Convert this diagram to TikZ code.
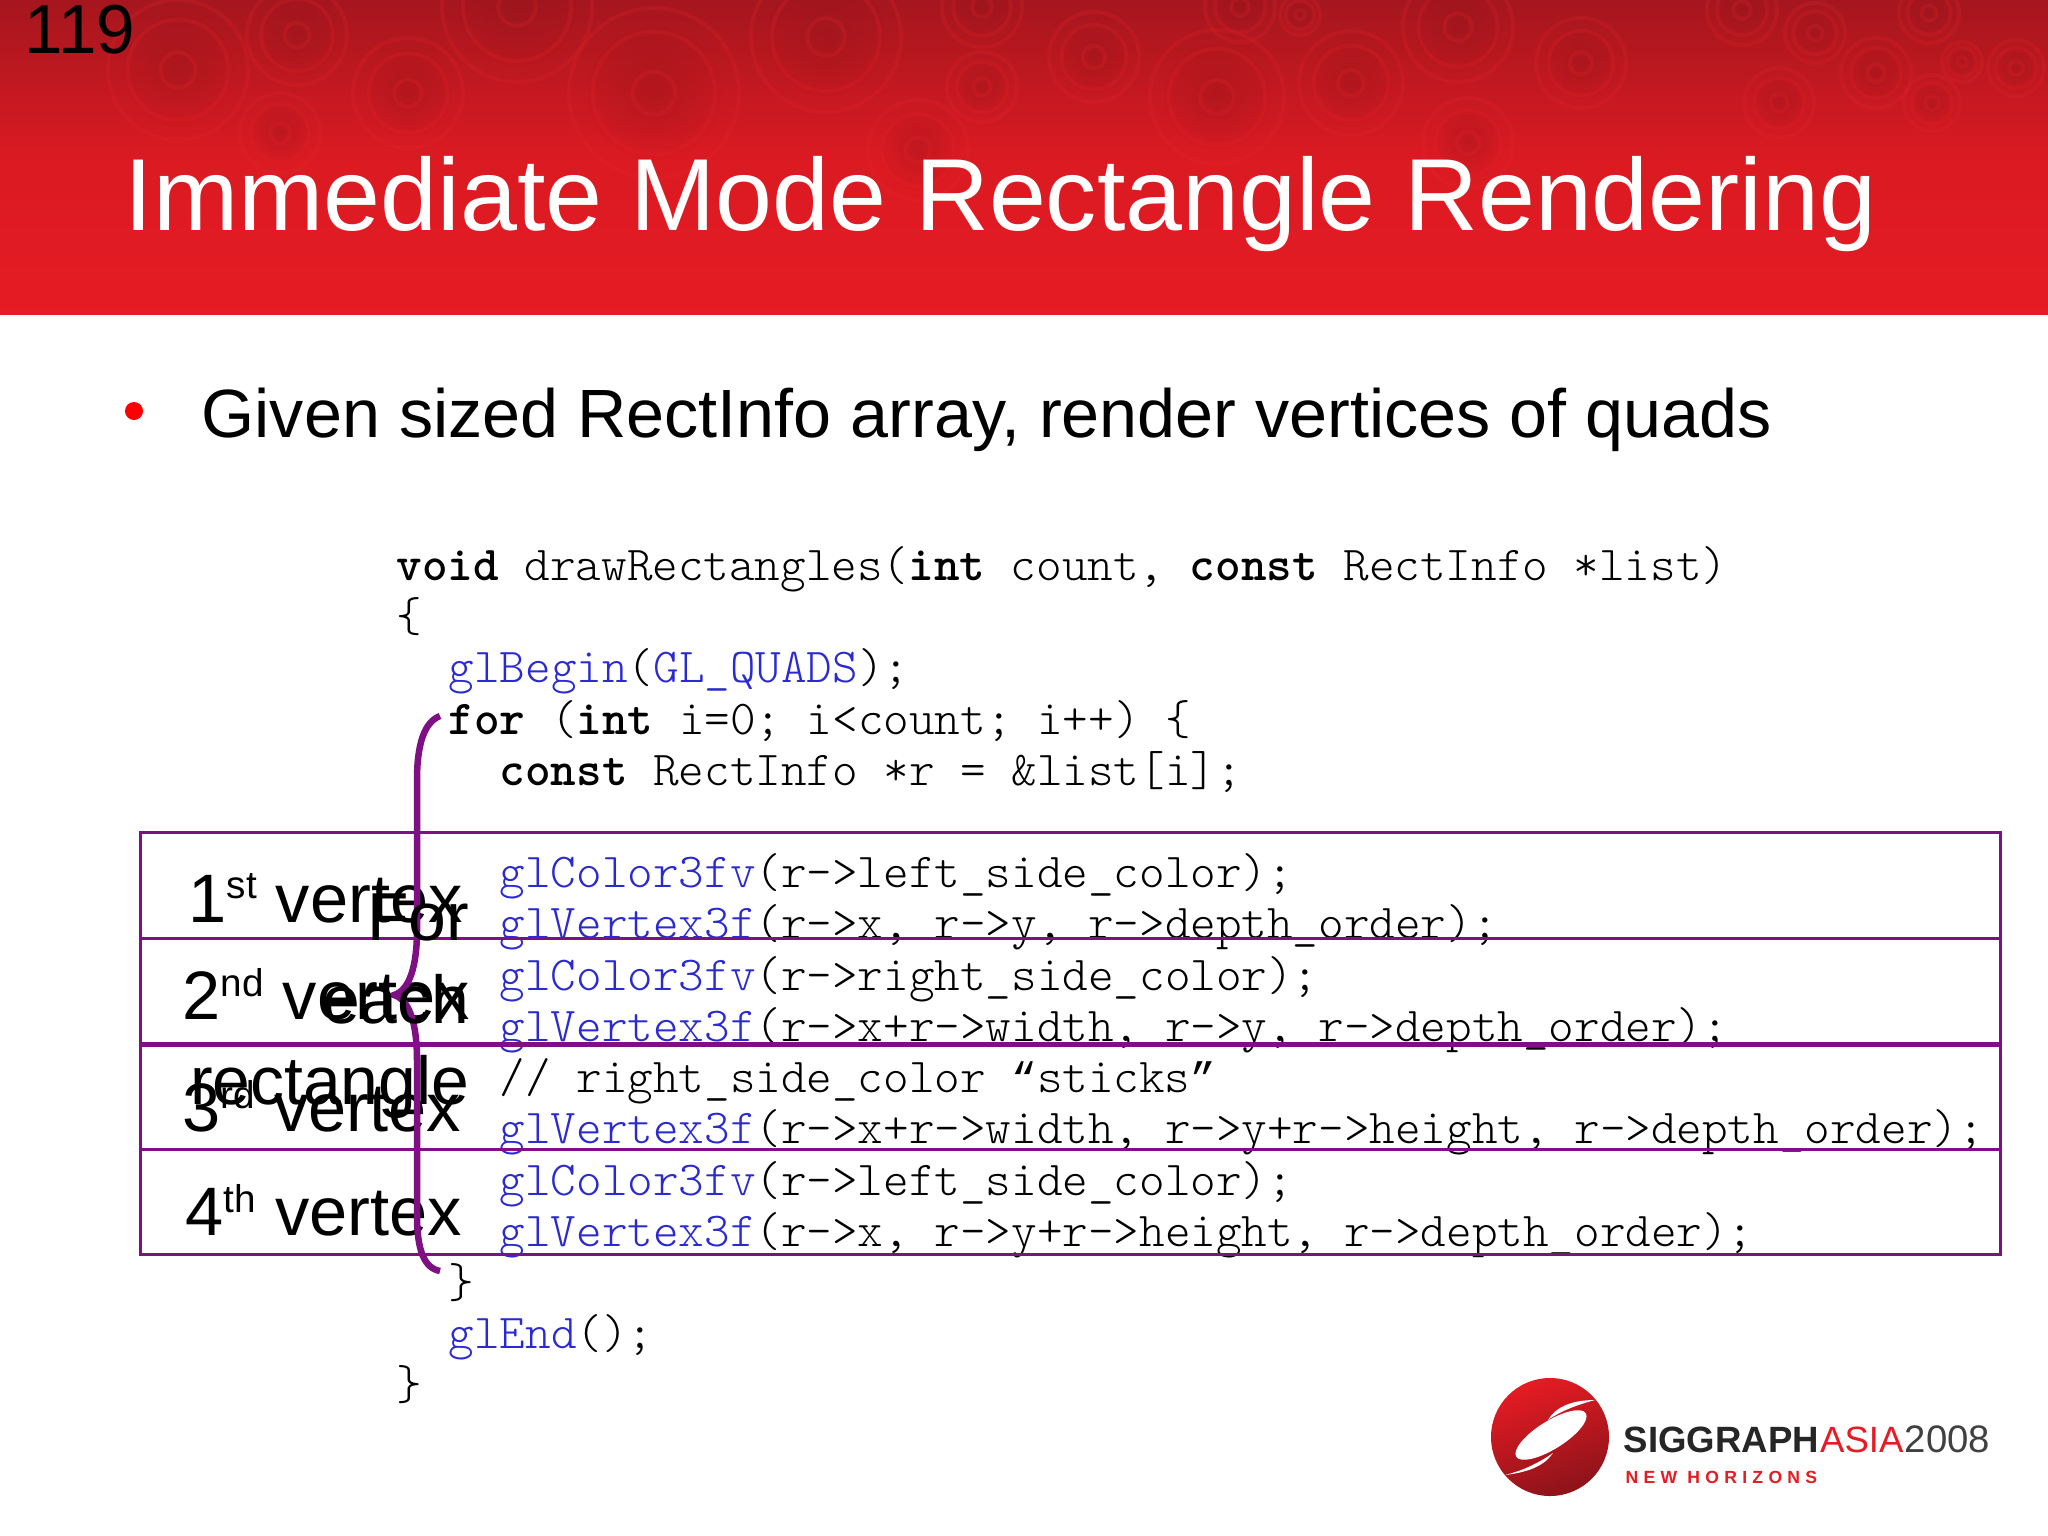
\documentclass[tikz,border=0pt]{standalone}
\usepackage{fontspec}
\usetikzlibrary{fadings}
\setmainfont{Liberation Sans}
\setsansfont{Liberation Sans}
\newfontfamily\quotefont{Liberation Mono}
\definecolor{headred}{HTML}{E61B23}
\definecolor{headdark}{HTML}{A5161E}
\definecolor{ringred}{HTML}{E8252D}
\definecolor{bandpurple}{HTML}{7F1083}
\definecolor{glblue}{HTML}{2A2AD0}
\tikzfading[name=spotfade, inner color=transparent!0, outer color=transparent!100]
\tikzset{
  textbase/.style={inner sep=0pt, anchor=base west},
  slidetitle/.style={textbase, white, font=\fontsize{29.1}{32}\selectfont},
  pagenum/.style={textbase, black, font=\fontsize{19.7}{22}\selectfont},
  bullettext/.style={textbase, black, font=\fontsize{19.42}{22}\selectfont},
  codeline/.style={textbase, black, font=\fontsize{13.86}{16}\ttfamily\fontseries{l}\selectfont},
  vertexlabel/.style={textbase, black, font=\fontsize{19.5}{22}\selectfont},
  forlabel/.style={inner sep=0pt, anchor=base east, black, font=\fontsize{19.3}{22}\selectfont},
  band/.style={draw=bandpurple, line width=0.3mm},
  ring/.style={draw=ringred, opacity=0.2, line width=0.4mm},
}
\newcommand{\glcall}[1]{\textcolor{glblue}{#1}}
\newcommand{\ordsup}[1]{\raisebox{0.23cm}{\fontsize{11}{13}\selectfont #1}}
\newcommand{\curlyq}[1]{{\quotefont\fontsize{12.1}{14}\selectfont #1}}
\begin{document}
\begin{tikzpicture}[x=0.01cm, y=-0.01cm]
 \useasboundingbox (0,0) rectangle (2048,1536);
 \fill[white] (0,0) rectangle (2048,1536);
 % header
 \shade[top color=headdark, bottom color=headred, middle color=headred!82!headdark] (0,0) rectangle (2048,314);
 \begin{scope}
    \clip (0,0) rectangle (2048,314);
    \foreach \cx/\cy/\rad in {178/70/70, 297/35/50, 517/7/75, 654/93/85, 826/37/75, 408/93/55, 280/133/40, 918/150/50, 982/7/40, 982/87/35,
       1094/57/45, 1217/97/67, 1351/83/52, 1458/27/55, 1581/63/45, 1815/33/30, 1876/73/35, 1962/62/20, 2016/68/28, 1932/103/28,
       1779/103/35, 1742/10/35, 1929/13/30, 1468/143/45, 1240/7/35, 1300/15/20}{
       \fill[headdark!85!black, opacity=0.3, path fading=spotfade] (\cx,\cy) circle (\rad*0.8);
       \draw[ring] (\cx,\cy) circle (\rad);
       \draw[ring] (\cx,\cy) circle (\rad*0.72);
       \draw[ring] (\cx,\cy) circle (\rad*0.25);
    }
 \end{scope}
 \node[pagenum] (pagenum) at (24,53) {119};
 \node[slidetitle] (title) at (124,230) {Immediate Mode Rectangle Rendering};

 \node[circle, fill=red, inner sep=0pt, minimum size=0.18cm] (dot) at (134,411) {};
 \node[bullettext] (given) at (201,437) {Given sized RectInfo array, render vertices of quads};

 % code
 \node[codeline] (c1) at (396,580) {\textbf{void} drawRectangles(\textbf{int} count, \textbf{const} RectInfo *list)};
 \node[codeline] (c2) at (396,631) {\{};
 \node[codeline] (c3) at (448,682) {\glcall{glBegin}(\glcall{GL\_QUADS});};
 \node[codeline] (c4) at (448,734) {\textbf{for} (\textbf{int} i=0; i<count; i++) \{};
 \node[codeline] (c5) at (499,785) {\textbf{const} RectInfo *r = \&list[i];};
 \node[codeline] (c7) at (499,887) {\glcall{glColor3fv}(r->left\_side\_color);};
 \node[codeline] (c8) at (499,938) {\glcall{glVertex3f}(r->x, r->y, r->depth\_order);};
 \node[codeline] (c9) at (499,990) {\glcall{glColor3fv}(r->right\_side\_color);};
 \node[codeline] (c10) at (499,1041) {\glcall{glVertex3f}(r->x+r->width, r->y, r->depth\_order);};
 \node[codeline] (c11) at (499,1092) {// right\_side\_color \curlyq{“}sticks\curlyq{”}};
 \node[codeline] (c12) at (499,1143) {\glcall{glVertex3f}(r->x+r->width, r->y+r->height, r->depth\_order);};
 \node[codeline] (c13) at (499,1195) {\glcall{glColor3fv}(r->left\_side\_color);};
 \node[codeline] (c14) at (499,1246) {\glcall{glVertex3f}(r->x, r->y+r->height, r->depth\_order);};
 \node[codeline] (c15) at (448,1297) {\}};
 \node[codeline] (c16) at (448,1348) {\glcall{glEnd}();};
 \node[codeline] (c17) at (396,1399) {\}};

 % vertex bands
 \draw[band] (140,832) rectangle (2000,938);
 \draw[band] (140,938) rectangle (2000,1044);
 \draw[band] (140,1044) rectangle (2000,1149);
 \draw[band] (140,1149) rectangle (2000,1254);
 \draw[draw=bandpurple, line width=0.5mm] (140,1044) -- (2000,1044);

 \node[vertexlabel] (v1) at (188,922) {1\ordsup{st} vertex};
 \node[vertexlabel] (v2) at (182,1019) {2\ordsup{nd} vertex};
 \node[vertexlabel] (v3) at (182,1131) {3\ordsup{rd} vertex};
 \node[vertexlabel] (v4) at (185,1235) {4\ordsup{th} vertex};

 % brace
 \coordinate (bracetop) at (440,716);
 \coordinate (bracetip) at (394,995);
 \coordinate (braceend) at (440,1271);
 \draw[bandpurple, line width=0.65mm] (bracetop) .. controls (424,722) and (417,745) .. (417,780)
    -- (417,930) .. controls (417,965) and (410,990) .. (bracetip)
    .. controls (410,1000) and (417,1025) .. (417,1060)
    -- (417,1215) .. controls (417,1250) and (424,1268) .. (braceend);

 \node[forlabel] (forn) at (470,940) {For};
 \node[forlabel] (eachn) at (470,1023) {each};
 \node[forlabel] (rectn) at (470,1104) {rectangle};

 % logo
 \shade[left color=headred, right color=headdark!85!black, shading angle=20] (1550,1437) circle (59);
 \fill[white, rotate around={32:(1551,1435)}] (1551,1435) ellipse (41 and 14);
 \fill[white] (1505,1475) .. controls (1530,1472) and (1545,1465) .. (1553,1453) .. controls (1540,1462) and (1525,1470) .. cycle;
 \fill[white] (1595,1400) .. controls (1570,1400) and (1555,1408) .. (1548,1420) .. controls (1562,1410) and (1580,1404) .. cycle;
 \node[textbase, black!85, font=\fontsize{10.4}{13}\bfseries\selectfont] (sig) at (1623,1452) {SIGGRAPH};
 \node[textbase, headred, font=\fontsize{10.4}{13}\selectfont] (asia) at (sig.base east) {ASIA};
 \node[textbase, black!75, font=\fontsize{10.9}{13}\selectfont] (year) at (asia.base east) {2008};
 \node[textbase, headred, font=\fontsize{5}{6}\bfseries\selectfont\addfontfeature{LetterSpace=30}] (horizons) at (1625,1483) {NEW HORIZONS};
\end{tikzpicture}
\end{document}
